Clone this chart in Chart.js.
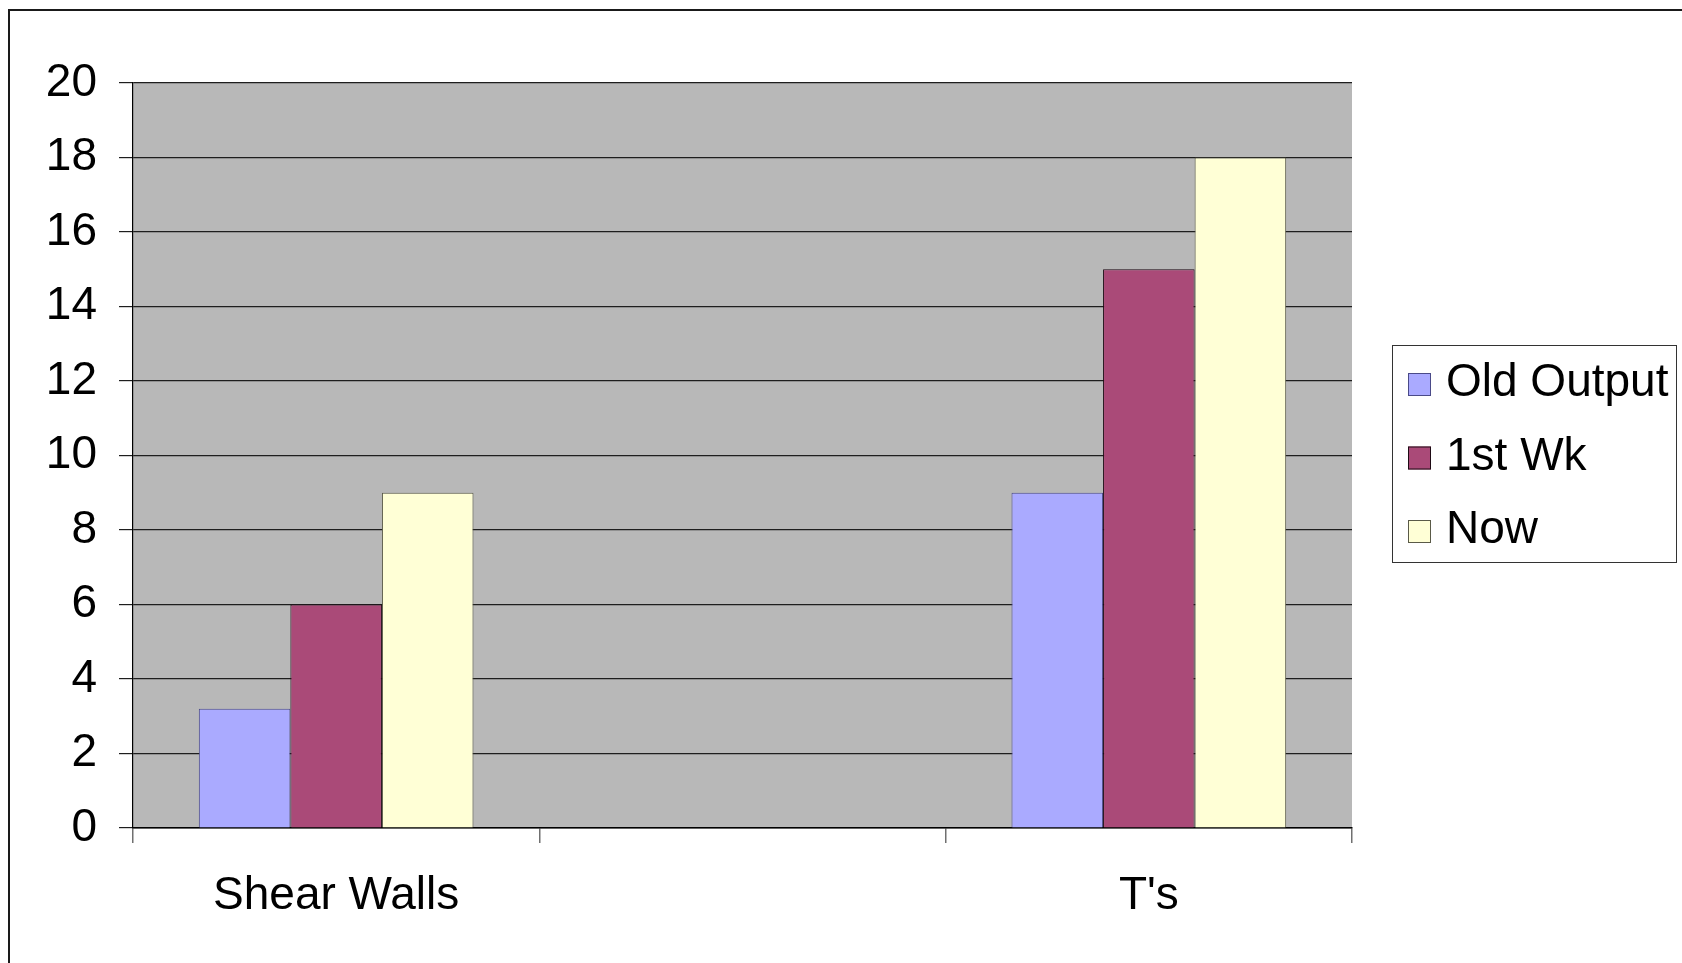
<!DOCTYPE html>
<html>
<head>
<meta charset="utf-8">
<style>
  html, body { margin: 0; padding: 0; background: #ffffff; }
  canvas { display: block; }
</style>
<script src="https://cdn.jsdelivr.net/npm/chart.js@4/dist/chart.umd.min.js"></script>
</head>
<body>
<canvas id="chart" width="1682" height="963"></canvas>
<script>
// Categories along the x axis (the middle slot is an empty spacer category)
const categories = ['Shear Walls', '', "T's"];

// Series values per category
const oldOutput = [3.2, null, 9];
const firstWeek = [6, null, 15];
const nowValues = [9, null, 18];

const seriesNames = ['Old Output', '1st Wk', 'Now'];

// Value axis range and step
const yMin = 0;
const yMax = 20;
const yStep = 2;

const FONT = 'Liberation Sans, Arial, Helvetica, sans-serif';

const fills = ['#aaaaff', '#aa4a78', '#ffffd6'];
const borders = ['#4a4a88', '#1e0a14', '#5a5a48'];

// Page frame and plot-area background
const framePlugin = {
  id: 'frame',
  beforeDraw(chart) {
    const ctx = chart.ctx;
    const a = chart.chartArea;
    ctx.save();
    ctx.fillStyle = '#ffffff';
    ctx.fillRect(0, 0, chart.width, chart.height);
    ctx.strokeStyle = '#1a1a1a';
    ctx.lineWidth = 2;
    ctx.strokeRect(9, 10, chart.width + 20, chart.height + 20);
    ctx.fillStyle = '#b8b8b8';
    ctx.fillRect(a.left, a.top, a.right - a.left, a.bottom - a.top);
    ctx.restore();
  }
};

// Boxed legend on the right
const boxLegendPlugin = {
  id: 'boxLegend',
  afterDraw(chart) {
    const ctx = chart.ctx;
    ctx.save();
    ctx.fillStyle = '#ffffff';
    ctx.fillRect(1392, 345, 284, 217);
    ctx.strokeStyle = '#333333';
    ctx.lineWidth = 1;
    ctx.strokeRect(1392.5, 345.5, 284, 217);
    ctx.font = '46px ' + FONT;
    ctx.textBaseline = 'alphabetic';
    ctx.textAlign = 'left';
    chart.data.datasets.forEach((ds, i) => {
      const baseline = 396 + i * 73.5;
      ctx.fillStyle = ds.backgroundColor;
      ctx.fillRect(1408, baseline - 23, 23, 23);
      ctx.strokeStyle = ds.borderColor;
      ctx.lineWidth = 1;
      ctx.strokeRect(1408.5, baseline - 22.5, 22, 22);
      ctx.fillStyle = '#000000';
      ctx.fillText(ds.label, 1446, baseline);
    });
    ctx.restore();
  }
};

const seriesData = [oldOutput, firstWeek, nowValues];

new Chart(document.getElementById('chart'), {
  type: 'bar',
  data: {
    labels: categories,
    datasets: seriesNames.map((name, i) => ({
      label: name,
      data: seriesData[i],
      backgroundColor: fills[i],
      borderColor: borders[i],
      borderWidth: 1,
      categoryPercentage: 0.676,
      barPercentage: 1.0
    }))
  },
  options: {
    responsive: false,
    animation: false,
    devicePixelRatio: 1,
    layout: { padding: { top: 83, right: 330, bottom: 0, left: 0 } },
    plugins: {
      legend: { display: false },
      tooltip: { enabled: false },
      title: { display: false }
    },
    scales: {
      x: {
        offset: true,
        grid: {
          offset: true,
          drawOnChartArea: false,
          drawTicks: true,
          tickLength: 15,
          color: '#707070',
          lineWidth: 1.5
        },
        border: { display: true, color: '#000000', width: 1.5 },
        ticks: {
          font: { family: FONT, size: 46 },
          color: '#000000',
          padding: 26,
          maxRotation: 0,
          autoSkip: false
        },
        afterFit(scale) { scale.height = 135; }
      },
      y: {
        min: yMin,
        max: yMax,
        ticks: {
          stepSize: yStep,
          font: { family: FONT, size: 46 },
          color: '#000000',
          padding: 22
        },
        grid: {
          color: '#1e1e1e',
          lineWidth: 1.2,
          tickLength: 14
        },
        border: { display: true, color: '#000000', width: 1.2 },
        afterFit(scale) { scale.width = 133; }
      }
    }
  },
  plugins: [framePlugin, boxLegendPlugin]
});
</script>
</body>
</html>
